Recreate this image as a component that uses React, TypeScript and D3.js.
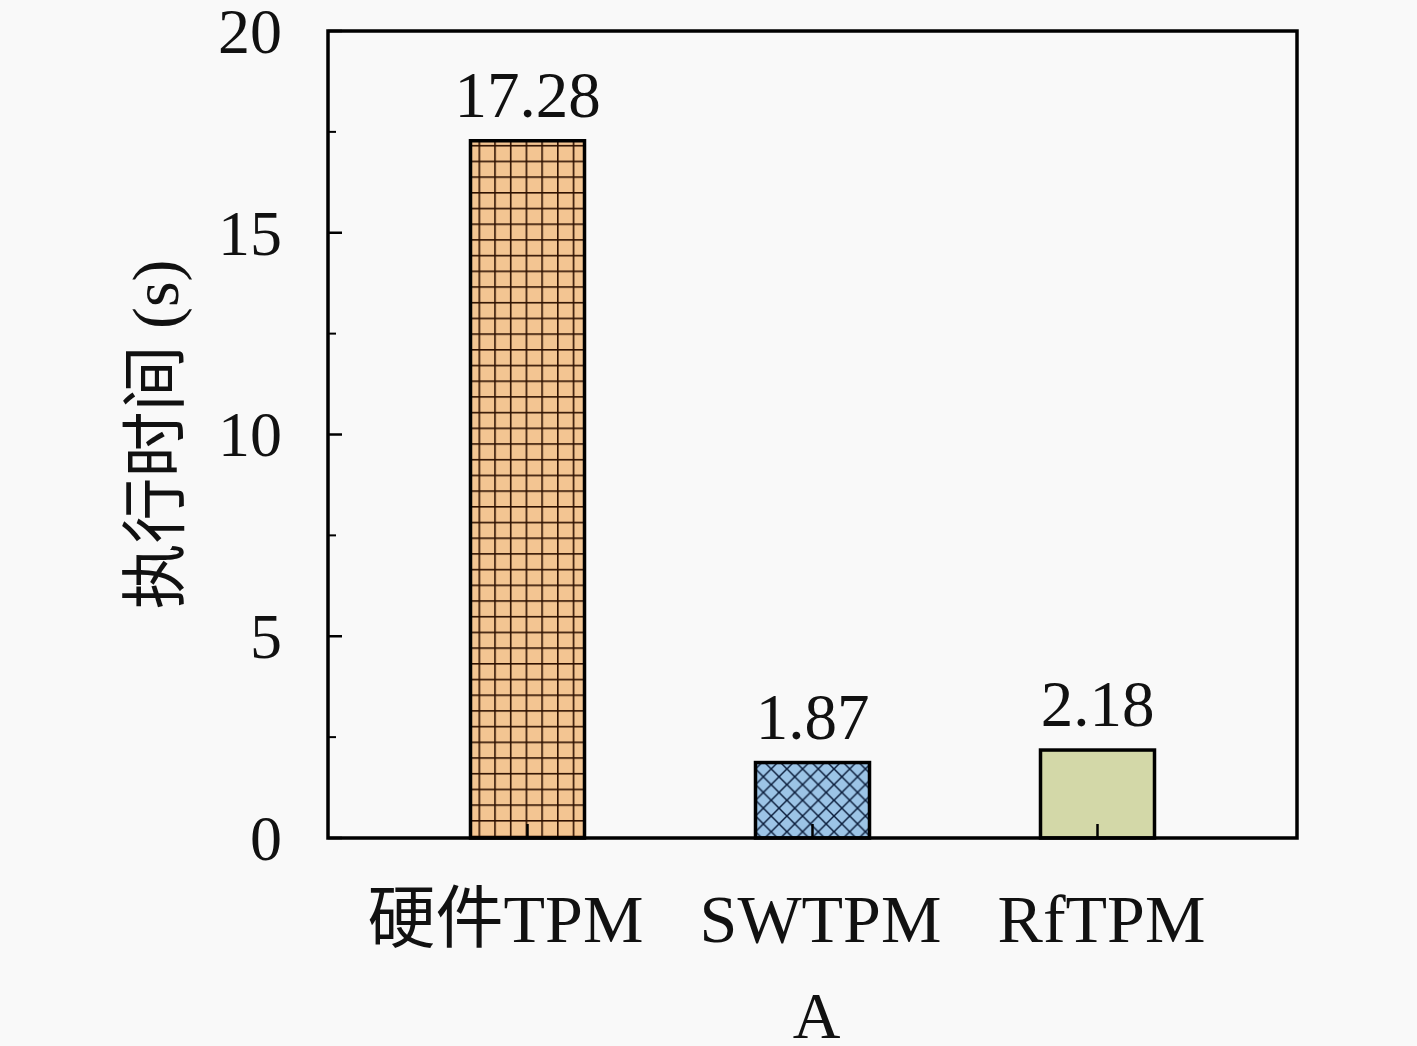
import React, { useEffect } from "react";
import * as d3 from "d3";

const categories = ["硬件TPM", "SWTPM", "RfTPM"];
const values = [17.28, 1.87, 2.18];
const valueLabels = ["17.28", "1.87", "2.18"];
const yMajorTicks = [0, 5, 10, 15, 20];
const yMinorTicks = [2.5, 7.5, 12.5, 17.5];
const xLabel = "A";
const yLabel = "执行时间 (s)";

const W = 1417;
const H = 1046;
const left = 328;
const right = 1297;
const top = 31;
const bottom = 838;

const fills = ["url(#gridHatch)", "url(#crossHatch)", "#d3d8a8"];
const labelShift = [-22, 8, 4];

export default function App() {
  useEffect(() => {
    document.body.style.margin = "0";
  }, []);

  const x = d3.scaleLinear().domain([0.3, 3.7]).range([left, right]);
  const y = d3.scaleLinear().domain([0, 20]).range([bottom, top]);
  const barW = x(1.4) - x(1.0);
  const font = "'Liberation Serif', 'Noto Sans CJK SC', serif";
  const T = 15.7;

  return (
    <svg width={W} height={H} style={{ display: "block", background: "#f9f9f9" }} fontFamily={font}>
      <defs>
        <pattern id="gridHatch" patternUnits="userSpaceOnUse" width={T} height={T} x={x(1) - barW / 2 + 8} y={top + 4}>
          <rect width={T} height={T} fill="#f3c592" />
          <line x1={0} y1={0.8} x2={T} y2={0.8} stroke="#2e1000" strokeWidth={1.6} />
          <line x1={0.8} y1={0} x2={0.8} y2={T} stroke="#2e1000" strokeWidth={1.6} />
        </pattern>
        <pattern id="crossHatch" patternUnits="userSpaceOnUse" width={T} height={T} x={x(2) - barW / 2} y={top}>
          <rect width={T} height={T} fill="#9cc4e6" />
          <line x1={-1} y1={-1} x2={T + 1} y2={T + 1} stroke="#0c1e3c" strokeWidth={1.5} />
          <line x1={-1} y1={T + 1} x2={T + 1} y2={-1} stroke="#0c1e3c" strokeWidth={1.5} />
        </pattern>
      </defs>

      {values.map((v, i) => (
        <rect
          key={categories[i]}
          x={x(i + 1) - barW / 2}
          y={y(v)}
          width={barW}
          height={y(0) - y(v)}
          fill={fills[i]}
          stroke="#000"
          strokeWidth={3.5}
        />
      ))}

      {values.map((v, i) => (
        <text key={"vl" + i} x={x(i + 1)} y={y(v) - 24} textAnchor="middle" fontSize={65} fill="#111">
          {valueLabels[i]}
        </text>
      ))}

      {categories.map((c, i) => (
        <line key={"xt" + i} x1={x(i + 1)} x2={x(i + 1)} y1={bottom} y2={bottom - 14} stroke="#000" strokeWidth={2.5} />
      ))}

      {yMajorTicks.map((t) => (
        <line key={"ym" + t} x1={left} x2={left + 14} y1={y(t)} y2={y(t)} stroke="#000" strokeWidth={2.5} />
      ))}
      {yMinorTicks.map((t) => (
        <line key={"yn" + t} x1={left} x2={left + 8} y1={y(t)} y2={y(t)} stroke="#000" strokeWidth={2} />
      ))}

      <rect x={left} y={top} width={right - left} height={bottom - top} fill="none" stroke="#000" strokeWidth={3.5} />

      {yMajorTicks.map((t) => (
        <text key={"yl" + t} x={282} y={y(t)} dy="0.34em" textAnchor="end" fontSize={64} fill="#111">
          {t}
        </text>
      ))}

      {categories.map((c, i) => (
        <text key={"cl" + i} x={x(i + 1) + labelShift[i]} y={942} textAnchor="middle" fontSize={68} fill="#111">
          {c}
        </text>
      ))}

      <text x={(left + right) / 2 + 4} y={1038} textAnchor="middle" fontSize={66} fill="#111">
        {xLabel}
      </text>

      <text
        transform={`translate(178, ${(top + bottom) / 2}) rotate(-90)`}
        textAnchor="middle"
        fontSize={66}
        fill="#111"
      >
        {yLabel}
      </text>
    </svg>
  );
}
